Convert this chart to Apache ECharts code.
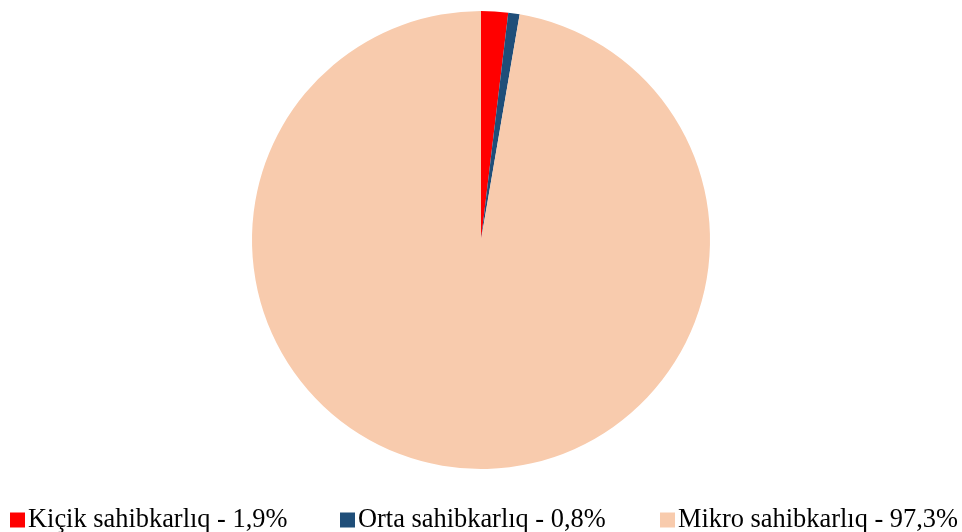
<!DOCTYPE html>
<html>
<head>
<meta charset="utf-8">
<script src="https://cdn.jsdelivr.net/npm/echarts@6/dist/echarts.min.js"></script>
<style>
  html, body { margin: 0; padding: 0; background: #fff; }
  #chart { width: 962px; height: 532px; }
</style>
</head>
<body>
<div id="chart"></div>
<script>
  const names = ['Kiçik sahibkarlıq', 'Orta sahibkarlıq', 'Mikro sahibkarlıq']
  const values = [1.9, 0.8, 97.3]
  const colors = ['#FF0000', '#1F4E79', '#F8CBAD']
  const legendX = [10, 340, 660]

  let chart = echarts.init(document.getElementById('chart'))
  let data = names.map((n, i) => ({ name: n, value: values[i], itemStyle: { color: colors[i] } }))

  // one legend per entry so each sits where the original puts it
  let legends = names.map((n, i) => ({
    left: legendX[i],
    top: 507,
    padding: 0,
    icon: 'rect',
    itemWidth: 15,
    itemHeight: 15,
    selectedMode: false,
    textStyle: {
      fontFamily: 'Liberation Serif',
      fontSize: 26.4,
      color: '#000',
      padding: [0, 0, 0, -2]
    },
    formatter: name => {
      let v = values[names.indexOf(name)]
      return name + ' - ' + String(v).replace('.', ',') + '%'
    },
    data: [n]
  }))

  let option = {
    animation: false,
    legend: legends,
    series: [
      {
        type: 'pie',
        center: [481, 240],
        radius: 229,
        startAngle: 90,
        clockwise: true,
        label: { show: false },
        labelLine: { show: false },
        emphasis: { disabled: true },
        data: data
      }
    ]
  }
  chart.setOption(option)
</script>
</body>
</html>
